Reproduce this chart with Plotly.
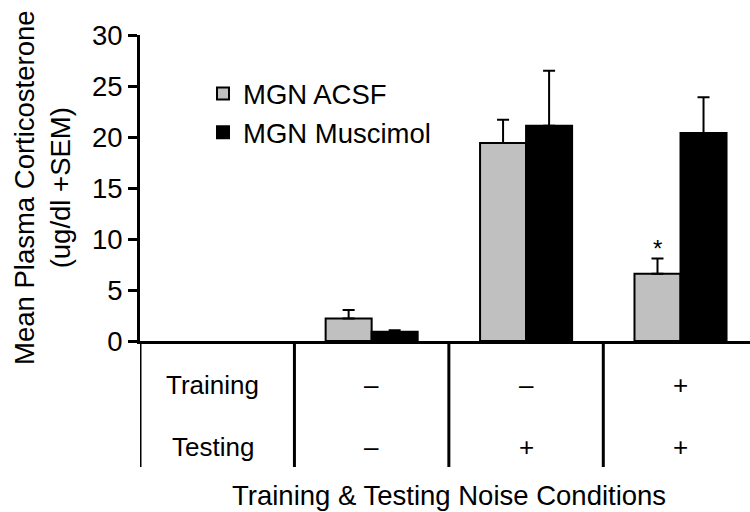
import plotly.graph_objects as go

# ---- data ----
conditions = ["Train-/Test-", "Train-/Test+", "Train+/Test+"]
positions = [1, 2, 3]
training_signs = ["–", "–", "+"]
testing_signs = ["–", "+", "+"]
acsf_mean = [2.2, 19.4, 6.6]
acsf_sem = [0.85, 2.3, 1.5]
musc_mean = [0.9, 21.1, 20.4]
musc_sem = [0.15, 5.4, 3.5]
acsf_sig = ["", "", "*"]
y_ticks = [0, 5, 10, 15, 20, 25, 30]

FONT = "Liberation Sans, Arial, sans-serif"
FS = 27.5
bargap = 0.404
half_w = (1 - bargap) / 4  # center offset of each bar within a group

fig = go.Figure()
fig.add_trace(go.Bar(
    x=positions, y=acsf_mean, name="MGN ACSF", legendgroup="a",
    marker=dict(color="#c0c0c0", line=dict(color="black", width=2)),
    error_y=dict(type="data", symmetric=False, array=acsf_sem,
                 arrayminus=[0] * len(acsf_sem), color="black", thickness=2, width=6),
))
fig.add_trace(go.Bar(
    x=positions, y=musc_mean, name="MGN Muscimol", legendgroup="b",
    marker=dict(color="black", line=dict(color="black", width=2)),
    error_y=dict(type="data", symmetric=False, array=musc_sem,
                 arrayminus=[0] * len(musc_sem), color="black", thickness=2, width=6),
))

annotations = []
# significance markers
for p, m, s, sig in zip(positions, acsf_mean, acsf_sem, acsf_sig):
    if sig:
        annotations.append(dict(x=p - half_w, y=m + s, xref="x", yref="y", text=sig,
                                showarrow=False, yanchor="bottom", xanchor="center",
                                yshift=-6, font=dict(family=FONT, size=24, color="black")))

# table rows
def py(pix):
    return (341 - pix) / 306.0

row_y = {"Training": py(384.5), "Testing": py(447)}
txt = dict(showarrow=False, xanchor="center", yanchor="middle",
           font=dict(family=FONT, size=26, color="black"))
annotations.append(dict(x=-0.03, y=row_y["Training"], xref="x", yref="paper", text="Training", **txt))
annotations.append(dict(x=-0.03, y=row_y["Testing"], xref="x", yref="paper", text="Testing", **txt))
for p, a, b in zip(positions, training_signs, testing_signs):
    annotations.append(dict(x=p, y=row_y["Training"], xref="x", yref="paper", text=a, **txt))
    annotations.append(dict(x=p, y=row_y["Testing"], xref="x", yref="paper", text=b, **txt))

ttl = dict(showarrow=False, xanchor="center", yanchor="middle",
           font=dict(family=FONT, size=FS, color="black"))
annotations.append(dict(x=(449 - 140) / 610, y=py(495.5), xref="paper", yref="paper",
                        text="Training & Testing Noise Conditions", **ttl))
annotations.append(dict(x=(42 - 140) / 610, y=0.5, xref="paper", yref="paper",
                        text="Mean Plasma Corticosterone<br>(ug/dl +SEM)", textangle=-90, **ttl))

shapes = []
for xb in [-0.5, 0.5, 1.5, 2.5]:
    shapes.append(dict(type="line", xref="x", yref="paper", x0=xb, x1=xb,
                       y0=0, y1=py(467), line=dict(color="black", width=3)))

fig.update_layout(
    width=750, height=512,
    margin=dict(l=140, r=0, t=35, b=171, pad=0),
    paper_bgcolor="white", plot_bgcolor="white",
    barmode="group", bargap=bargap, bargroupgap=0,
    font=dict(family=FONT, size=FS, color="black"),
    showlegend=True,
    legend=dict(x=(203 - 140) / 610, y=py(69), xanchor="left", yanchor="top",
                bgcolor="rgba(0,0,0,0)", tracegroupgap=8, traceorder="normal",
                font=dict(family=FONT, size=FS, color="black")),
    annotations=annotations,
    shapes=shapes,
)
fig.update_xaxes(range=[-0.5, 3.45], showline=True, linecolor="black", linewidth=3,
                 showticklabels=False, ticks="", showgrid=False, zeroline=False)
fig.update_yaxes(range=[0, 30], tickvals=y_ticks, showline=True, linecolor="black",
                 linewidth=3, ticks="outside", ticklen=9, tickwidth=3, tickcolor="black",
                 showgrid=False, zeroline=False, tickfont=dict(family=FONT, size=FS))

fig.write_html("out.html")
